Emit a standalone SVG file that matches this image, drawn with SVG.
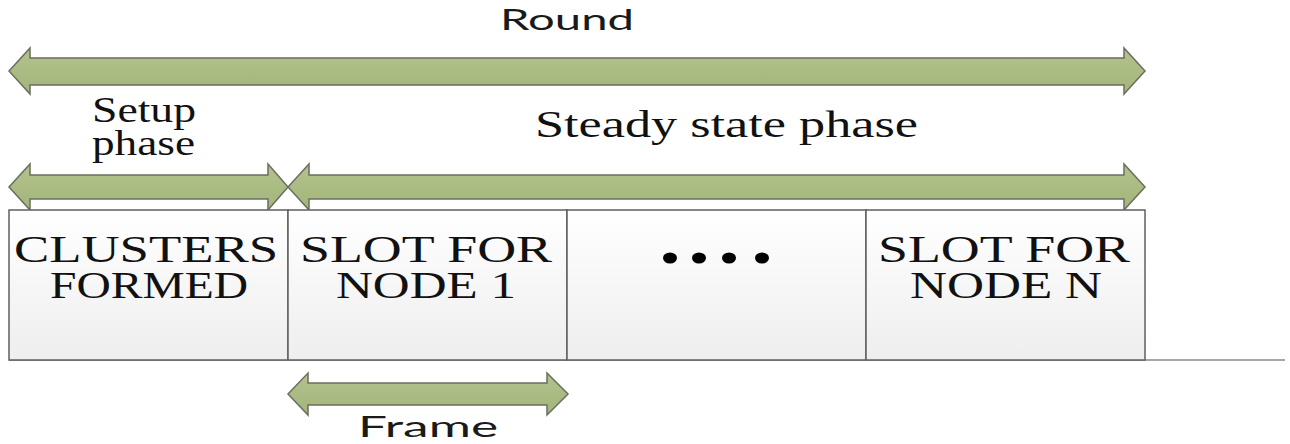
<svg xmlns="http://www.w3.org/2000/svg" width="1290" height="444" viewBox="0 0 1290 444">
  <defs>
    <linearGradient id="slotFill" x1="0" y1="0" x2="0" y2="1">
      <stop offset="0" stop-color="#ffffff"/>
      <stop offset="1" stop-color="#eeeeee"/>
    </linearGradient>
    <linearGradient id="arrowFill" x1="0" y1="0" x2="0" y2="1">
      <stop offset="0" stop-color="#b2c38c"/>
      <stop offset="1" stop-color="#a3b57a"/>
    </linearGradient>
    <style>
      .arrow { fill: url(#arrowFill); stroke: #6b6e60; stroke-width: 1.5; stroke-linejoin: miter; }
      .slot { fill: url(#slotFill); stroke: #5f5f5f; stroke-width: 1.5; }
      .base { stroke: #8a8a8a; stroke-width: 1.5; }
      .sans { font-family: Lato, "Open Sans", "Liberation Sans", sans-serif; fill: #1a1a1a; }
      .serif { font-family: "Liberation Serif", "Times New Roman", serif; fill: #111111; }
    </style>
  </defs>

  <rect width="1290" height="444" fill="#ffffff"/>

  <!-- time-span arrows -->
  <g id="connectors">
    <polygon id="round-arrow" class="arrow" points="9,71 30,48 30,58 1124,58 1124,48 1145,71 1124,94 1124,85 30,85 30,94"/>
    <polygon id="setup-arrow" class="arrow" points="9,187 30,164 30,175 268,175 268,164 288,187 268,210 268,199 30,199 30,210"/>
    <polygon id="steady-arrow" class="arrow" points="288,187 309,164 309,175 1124,175 1124,164 1145,187 1124,210 1124,199 309,199 309,210"/>
    <polygon id="frame-arrow" class="arrow" points="288,394 308,373 308,383 547,383 547,373 568,394 547,415 547,405 308,405 308,415"/>
  </g>

  <!-- labels -->
  <g id="label-round">
    <text class="sans" x="500" y="30" font-size="29" textLength="134" lengthAdjust="spacingAndGlyphs">Round</text>
  </g>
  <g id="label-setup">
    <text class="serif" font-size="35">
      <tspan x="92" y="122" textLength="104" lengthAdjust="spacingAndGlyphs">Setup</tspan>
      <tspan x="92" y="155" textLength="103" lengthAdjust="spacingAndGlyphs">phase</tspan>
    </text>
  </g>
  <g id="label-steady">
    <text class="serif" x="535" y="137" font-size="38" textLength="383" lengthAdjust="spacingAndGlyphs">Steady state phase</text>
  </g>

  <!-- baseline -->
  <line class="base" x1="9" y1="360" x2="1285" y2="360"/>

  <!-- slots -->
  <g id="clusters-formed">
    <rect class="slot" x="9" y="210" width="279" height="150"/>
    <text class="serif" font-size="38">
      <tspan x="14" y="262" textLength="264" lengthAdjust="spacingAndGlyphs">CLUSTERS</tspan>
      <tspan x="50" y="298" textLength="198" lengthAdjust="spacingAndGlyphs">FORMED</tspan>
    </text>
  </g>
  <g id="slot-node-1">
    <rect class="slot" x="288" y="210" width="279" height="150"/>
    <text class="serif" font-size="38">
      <tspan x="300" y="262" textLength="252" lengthAdjust="spacingAndGlyphs">SLOT FOR</tspan>
      <tspan x="336" y="298" textLength="180" lengthAdjust="spacingAndGlyphs">NODE 1</tspan>
    </text>
  </g>
  <g id="slot-ellipsis">
    <rect class="slot" x="567" y="210" width="299" height="150"/>
    <ellipse cx="670" cy="258" rx="7" ry="5.5" fill="#000"/>
    <ellipse cx="699" cy="258" rx="7" ry="5.5" fill="#000"/>
    <ellipse cx="729" cy="258" rx="7" ry="5.5" fill="#000"/>
    <ellipse cx="762" cy="258" rx="7" ry="5.5" fill="#000"/>
  </g>
  <g id="slot-node-n">
    <rect class="slot" x="866" y="210" width="279" height="150"/>
    <text class="serif" font-size="38">
      <tspan x="878" y="262" textLength="252" lengthAdjust="spacingAndGlyphs">SLOT FOR</tspan>
      <tspan x="910" y="298" textLength="192" lengthAdjust="spacingAndGlyphs">NODE N</tspan>
    </text>
  </g>

  <g id="label-frame">
    <text class="sans" x="358" y="437" font-size="28" textLength="140" lengthAdjust="spacingAndGlyphs">Frame</text>
  </g>
</svg>
